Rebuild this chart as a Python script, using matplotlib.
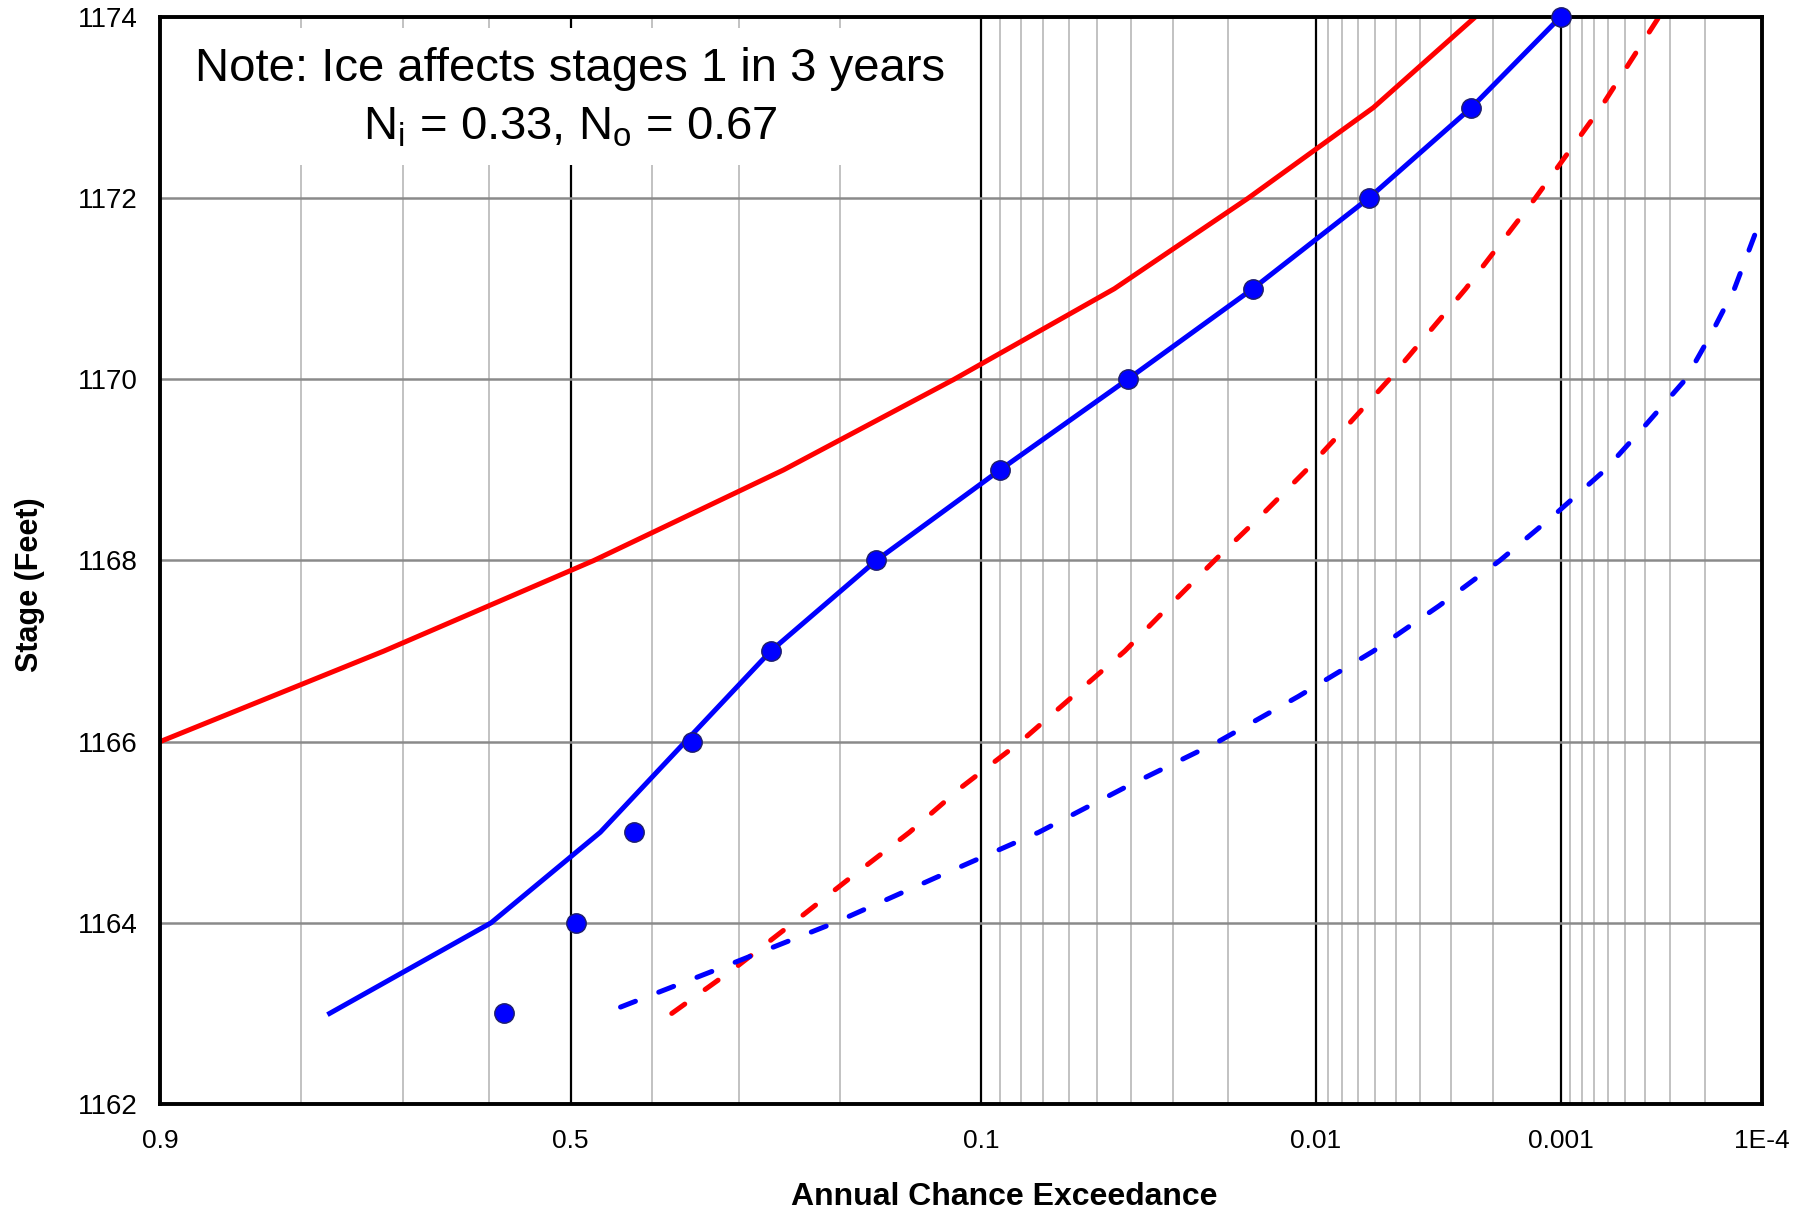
import math
from statistics import NormalDist

import numpy as np
import matplotlib
matplotlib.use("Agg")
import matplotlib.pyplot as plt
from matplotlib.patches import Rectangle
from matplotlib.ticker import FixedLocator, FixedFormatter, NullFormatter

plt.rcParams['font.family'] = ['Liberation Sans', 'DejaVu Sans']

# ---------------------------------------------------------------------------
# Data (stage in feet vs annual chance exceedance)
# ---------------------------------------------------------------------------
red_stage = [1166, 1167, 1168, 1169, 1170, 1171, 1172, 1173, 1174]
red_aep = [0.9, 0.72, 0.471, 0.253, 0.1156, 0.0448, 0.0172, 0.0061, 0.00237]

blue_stage = [1163, 1164, 1165, 1166, 1167, 1168, 1169, 1170, 1171, 1172, 1173, 1174]
blue_aep = [0.774, 0.598, 0.463, 0.360, 0.266, 0.170, 0.090, 0.041, 0.0166,
            0.00636, 0.00246, 0.001]

obs_stage = [1163, 1164, 1165, 1166, 1167, 1168, 1169, 1170, 1171, 1172, 1173, 1174]
obs_aep = [0.582, 0.493, 0.421, 0.352, 0.266, 0.170, 0.090, 0.041, 0.0166,
           0.00636, 0.00246, 0.001]

red_dash_stage = [1163, 1163.5, 1164, 1164.5, 1165, 1165.5, 1166, 1167, 1167.5,
                  1168, 1168.5, 1169, 1169.5, 1170, 1171, 1172, 1173, 1174]
red_dash_aep = [0.376, 0.304, 0.2436, 0.191, 0.145, 0.111, 0.080, 0.0418,
                0.0308, 0.0222, 0.0155, 0.0108, 0.0076, 0.0053, 0.0026,
                0.0013, 0.00065, 0.00034]

blue_dash_stage = [1163.07, 1163.5, 1164, 1164.5, 1165, 1165.5, 1166, 1166.5,
                   1167, 1167.5, 1168, 1168.5, 1169, 1169.5, 1170, 1170.5,
                   1171, 1172]
blue_dash_aep = [0.438, 0.320, 0.205, 0.127, 0.0719, 0.0415, 0.0216, 0.01154,
                 0.0061, 0.00335, 0.00186, 0.00107, 0.00062, 0.000394,
                 0.00025, 0.000185, 0.00014, 0.000092]

x_ticks = [0.9, 0.5, 0.1, 0.01, 0.001, 0.0001]
x_tick_labels = ['0.9', '0.5', '0.1', '0.01', '0.001', '1E-4']
y_ticks = [1162, 1164, 1166, 1168, 1170, 1172, 1174]

# ---------------------------------------------------------------------------
# normal probability scale helpers
# ---------------------------------------------------------------------------
_nd = NormalDist()


def norm_ppf(p):
    p = np.asarray(p, dtype=float)
    out = np.full(p.shape, np.nan)
    ok = np.isfinite(p)
    q = np.clip(p[ok], 1e-15, 1 - 1e-15)
    out[ok] = [_nd.inv_cdf(v) for v in q]
    return out


_erf = np.vectorize(math.erf, otypes=[float])


def norm_cdf(z):
    z = np.asarray(z, dtype=float)
    return 0.5 * (1.0 + _erf(z / math.sqrt(2.0)))


minor_x = [0.8, 0.7, 0.6, 0.4, 0.3, 0.2]
for decade in (0.01, 0.001, 0.0001):
    minor_x += [k * decade for k in range(2, 10)]

# ---------------------------------------------------------------------------
# Plot
# ---------------------------------------------------------------------------
fig = plt.figure(figsize=(18.14, 12.12), dpi=100)
ax = fig.add_axes([0.0882, 0.0891, 0.9713 - 0.0882, 0.986 - 0.0891])

ax.set_xscale('function', functions=(norm_ppf, norm_cdf))
ax.set_xlim(0.9, 0.0001)
ax.set_ylim(1162, 1174)

ax.xaxis.set_major_locator(FixedLocator(x_ticks))
ax.xaxis.set_major_formatter(FixedFormatter(x_tick_labels))
ax.xaxis.set_minor_locator(FixedLocator(minor_x))
ax.xaxis.set_minor_formatter(NullFormatter())
ax.set_yticks(y_ticks)

ax.set_axisbelow(True)
ax.grid(which='minor', axis='x', color='#b8b8b8', linewidth=1.2)
ax.grid(which='major', axis='x', color='black', linewidth=1.6)
ax.grid(which='major', axis='y', color='#8a8a8a', linewidth=1.8)

ax.tick_params(which='both', length=0)
ax.tick_params(axis='y', labelsize=20, pad=16)
ax.tick_params(axis='x', labelsize=19, pad=18)

for sp in ax.spines.values():
    sp.set_linewidth(2.8)
    sp.set_color('black')

# white note box over the grid
ax.add_patch(Rectangle((0.0, 0.864), 0.507, 0.126, transform=ax.transAxes,
                       facecolor='white', edgecolor='none', zorder=1))
ax.text(0.256, 0.952, 'Note: Ice affects stages 1 in 3 years',
        transform=ax.transAxes, ha='center', va='center', fontsize=34, zorder=3)
ax.text(0.256, 0.898,
        r'N$_\mathregular{i}$ = 0.33, N$_\mathregular{o}$ = 0.67',
        transform=ax.transAxes, ha='center', va='center', fontsize=34, zorder=3)

lw = 3.6
ax.plot(red_aep, red_stage, color='#ff0000', linewidth=lw, zorder=2)
ax.plot(blue_aep, blue_stage, color='#0000ff', linewidth=lw, zorder=2)
ax.plot(red_dash_aep, red_dash_stage, color='#ff0000', linewidth=lw,
        dashes=(3.2, 5.0), dash_capstyle='round', zorder=2)
ax.plot(blue_dash_aep, blue_dash_stage, color='#0000ff', linewidth=lw,
        dashes=(3.2, 5.0), dash_capstyle='round', zorder=2)
ax.plot(obs_aep, obs_stage, linestyle='none', marker='o', markersize=14,
        markerfacecolor='#0000ff', markeredgecolor='#20206a',
        markeredgewidth=1.0, zorder=4, clip_on=False)

ax.set_xlabel('Annual Chance Exceedance', fontsize=23, fontweight='bold')
ax.set_ylabel('Stage (Feet)', fontsize=22, fontweight='bold')
ax.xaxis.set_label_coords(0.527, -0.072)
ax.yaxis.set_label_coords(-0.072, 0.478)

fig.savefig('out.png', dpi=100)
